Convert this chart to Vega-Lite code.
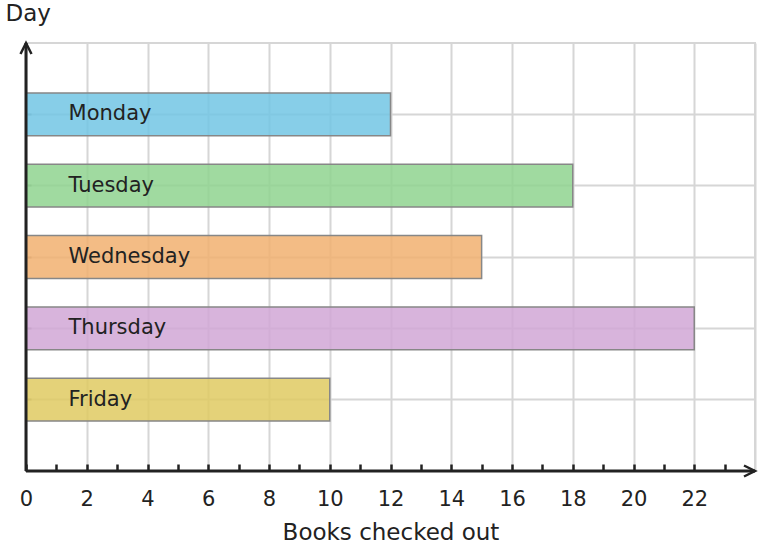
{
  "$schema": "https://vega.github.io/schema/vega-lite/v6.json",
  "width": 729,
  "height": 428,
  "autosize": "none",
  "padding": {"left": 26, "top": 43, "right": 4, "bottom": 77},
  "config": {
    "font": "DejaVu Sans",
    "view": {"stroke": "#d6d6d6", "strokeWidth": 2}
  },
  "data": {
    "values": [
      {"day": "Monday", "books": 12},
      {"day": "Tuesday", "books": 18},
      {"day": "Wednesday", "books": 15},
      {"day": "Thursday", "books": 22},
      {"day": "Friday", "books": 10}
    ]
  },
  "layer": [
    {
      "layer": [
        {
          "mark": {"type": "bar", "stroke": "#878787", "strokeWidth": 1.5, "fillOpacity": 0.85},
          "encoding": {
            "y": {
              "field": "day", "type": "nominal", "sort": null,
              "scale": {"paddingInner": 0.4, "paddingOuter": 0.7},
              "axis": {
                "title": "Day", "titleAngle": 0, "titleX": -26, "titleY": -30,
                "titleAlign": "left", "titleBaseline": "middle",
                "titleFontSize": 23, "titleFontWeight": "normal", "titleColor": "#222",
                "labels": false, "domain": false, "offset": -5,
                "ticks": true, "tickSize": 4, "tickColor": "#999", "tickWidth": 2,
                "grid": true, "gridColor": "#d6d6d6", "gridWidth": 2
              }
            },
            "x": {
              "field": "books", "type": "quantitative",
              "scale": {"domain": [0, 24], "nice": false},
              "axis": {
                "orient": "bottom",
                "values": [0, 1, 2, 3, 4, 5, 6, 7, 8, 9, 10, 11, 12, 13, 14, 15, 16, 17, 18, 19, 20, 21, 22, 23, 24],
                "labelExpr": "datum.value % 2 == 0 && datum.value <= 22 ? datum.label : ''",
                "labelFontSize": 21, "labelColor": "#222", "labelBaseline": "alphabetic",
                "labelPadding": 34, "labelFlush": false, "labelOverlap": false,
                "domain": false, "ticks": false,
                "grid": true, "gridColor": "#d6d6d6", "gridWidth": 2,
                "title": "Books checked out", "titleFontSize": 23, "titleFontWeight": "normal",
                "titleColor": "#222", "titleBaseline": "alphabetic", "titleY": 68
              }
            },
            "fill": {
              "field": "day", "type": "nominal",
              "scale": {
                "domain": ["Monday", "Tuesday", "Wednesday", "Thursday", "Friday"],
                "range": ["#72c6e4", "#8fd48f", "#f1b070", "#d1a7d6", "#dfca62"]
              },
              "legend": null
            }
          }
        },
        {
          "mark": {"type": "text", "align": "left", "baseline": "middle", "fontSize": 21, "color": "#222"},
          "encoding": {
            "y": {"field": "day", "type": "nominal", "sort": null},
            "x": {"datum": 1.4, "type": "quantitative"},
            "text": {"field": "day"}
          }
        }
      ]
    },
    {
      "data": {"values": [{"from": 0, "to": 24, "level": 0}]},
      "mark": {"type": "rule", "color": "#222", "strokeWidth": 3},
      "encoding": {
        "x": {"field": "from", "type": "quantitative", "axis": null},
        "x2": {"field": "to"},
        "y": {"field": "level", "type": "quantitative", "scale": {"domain": [0, 1]}, "axis": null}
      }
    },
    {
      "data": {"values": [{"at": 0, "from": 0, "to": 1}]},
      "mark": {"type": "rule", "color": "#222", "strokeWidth": 3},
      "encoding": {
        "x": {"field": "at", "type": "quantitative", "axis": null},
        "y": {"field": "from", "type": "quantitative", "scale": {"domain": [0, 1]}, "axis": null},
        "y2": {"field": "to"}
      }
    },
    {
      "data": {"values": [{"x": 24, "y": 0, "dir": "right"}, {"x": 0, "y": 1, "dir": "up"}]},
      "mark": {"type": "point", "filled": false, "stroke": "#222", "strokeWidth": 2.5, "size": 484, "opacity": 1},
      "encoding": {
        "x": {
          "field": "x", "type": "quantitative",
          "axis": {
            "orient": "bottom",
            "values": [0, 1, 2, 3, 4, 5, 6, 7, 8, 9, 10, 11, 12, 13, 14, 15, 16, 17, 18, 19, 20, 21, 22, 23],
            "labels": false, "domain": false, "grid": false, "title": null,
            "offset": -7, "ticks": true, "tickSize": 7, "tickColor": "#222", "tickWidth": 2.5
          }
        },
        "y": {"field": "y", "type": "quantitative", "scale": {"domain": [0, 1]}, "axis": null},
        "shape": {
          "field": "dir", "type": "nominal",
          "scale": {"domain": ["right", "up"], "range": ["M-1,-0.5L0,0L-1,0.5", "M-0.5,1L0,0L0.5,1"]},
          "legend": null
        }
      }
    }
  ],
  "resolve": {"scale": {"y": "independent"}, "axis": {"x": "independent"}}
}
